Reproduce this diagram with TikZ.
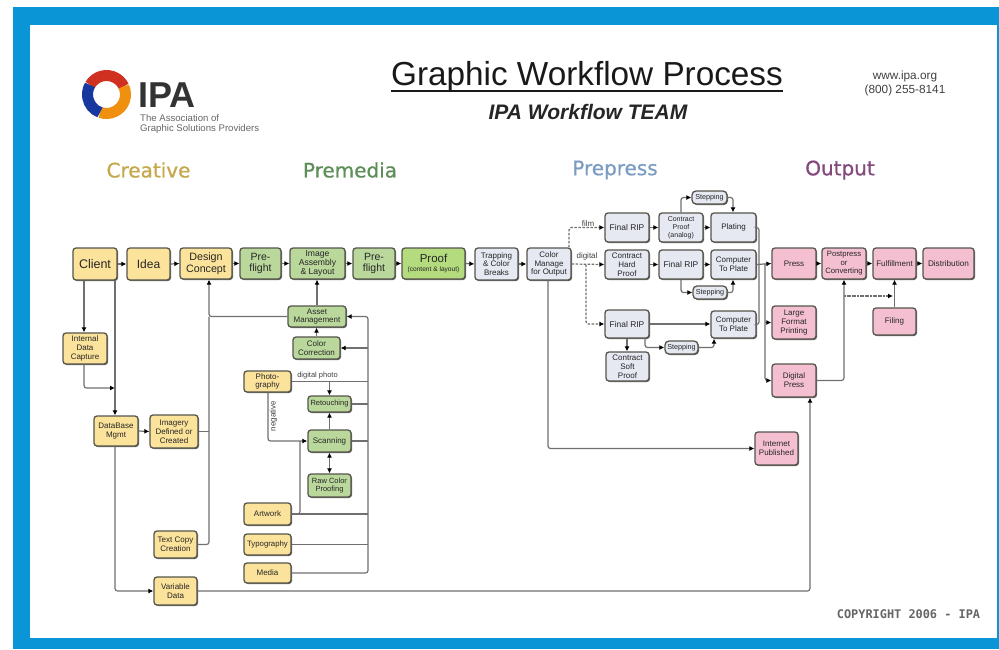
\documentclass[tikz,border=0pt]{standalone}
\usepackage{fontspec}
\setmainfont{Liberation Sans}
\newfontfamily\catfont[FakeBold=0.7]{DejaVu Sans}
\newfontfamily\copyfont{DejaVu Sans Mono}
\usetikzlibrary{arrows.meta,shadows,calc}
\definecolor{frameblue}{HTML}{0A96D6}
\definecolor{cy}{HTML}{FCE39B}
\definecolor{cg}{HTML}{BAD89C}
\definecolor{cgp}{HTML}{B4DB7E}
\definecolor{cb}{HTML}{E6E8F2}
\definecolor{cp}{HTML}{F5BFD2}
\definecolor{edge}{HTML}{55554C}
\definecolor{lin}{HTML}{707070}
\definecolor{lgred}{HTML}{D03020}
\definecolor{lgor}{HTML}{F09010}
\definecolor{lgbl}{HTML}{1838A0}
\tikzset{
  boxbase/.style={draw=edge,line width=1.3pt,rounded corners=3pt,inner sep=0pt,align=center,
    text=black!85,font=\fontsize{8}{8.8}\selectfont,
    drop shadow={shadow xshift=1pt,shadow yshift=-1pt,fill=black!60,opacity=1}},
  yel/.style={boxbase,fill=cy},
  grn/.style={boxbase,fill=cg},
  grp/.style={boxbase,fill=cgp},
  blu/.style={boxbase,fill=cb},
  pnk/.style={boxbase,fill=cp},
  big/.style={font=\fontsize{12.5}{13}\selectfont},
  mid/.style={font=\fontsize{10.5}{11.5}\selectfont},
  conn/.style={draw=lin,line width=1.2pt,rounded corners=2.5pt},
  arr/.style={conn,-{Latex[length=5pt,width=5pt,black]}},
  dsh/.style={arr,dash pattern=on 2.5pt off 1.5pt},
  lab/.style={inner sep=0pt,text=black!75,font=\fontsize{7.5}{8}\selectfont},
  cat/.style={inner sep=0pt,font=\catfont\fontsize{20}{22}\selectfont},
}
\newcommand\bx[7]{%
  \pgfmathsetmacro\bw{#4-#2}\pgfmathsetmacro\bh{#5-#3}%
  \pgfmathsetmacro\bcx{(#2+#4)/2}\pgfmathsetmacro\bcy{(#3+#5)/2}%
  \node[#6,minimum width=\bw pt,minimum height=\bh pt] (#1) at (\bcx,\bcy) {#7};}
\begin{document}
\begin{tikzpicture}[x=1pt,y=-1pt]
\useasboundingbox (0,0) rectangle (999,649);
\fill[frameblue] (13,7) rectangle (999,649);
\fill[white] (30,25) rectangle (997,638);
% logo
\begin{scope}[shift={(106.5,94.5)},line width=11pt]
\draw[lgred] (-150:19) arc (-150:-25:19);
\draw[lgor] (-25:19) arc (-25:110:19);
\draw[lgbl] (110:19) arc (110:210:19);
\end{scope}
\node[inner sep=0pt,font=\bfseries\fontsize{36}{36}\selectfont,text=black!80] (ipa) at (167,95) {IPA};
\node[inner sep=0pt,align=left,anchor=north west,text=black!60,font=\fontsize{9.6}{10.4}\selectfont] (assoc) at (140,114) {The Association of\\Graphic Solutions Providers};
% titles
\node[inner sep=0pt,font=\fontsize{33.3}{34}\selectfont,text=black!90] (title) at (587,77) {Graphic Workflow Process};
\draw[black!90,line width=1.6pt] (title.west |- 0,91) -- (title.east |- 0,91);
\node[inner sep=0pt,font=\bfseries\itshape\fontsize{21}{22}\selectfont,text=black!85] (sub) at (588,112) {IPA Workflow TEAM};
\node[inner sep=0pt,align=center,text=black!75,font=\fontsize{11.8}{14}\selectfont] (web) at (905,83) {www.ipa.org\\(800) 255-8141};
\definecolor{t1}{HTML}{C4A84A}\definecolor{t2}{HTML}{5E8E58}\definecolor{t3}{HTML}{7C9CC4}\definecolor{t4}{HTML}{84487C}
\node[cat,text=t1] (c1) at (148.5,170) {Creative};
\node[cat,text=t2] (c2) at (350,170) {Premedia};
\node[cat,text=t3] (c3) at (615,170) {Prepress};
\node[cat,text=t4] (c4) at (840,170) {Output};
\node[inner sep=0pt,text=black!60,font=\copyfont\bfseries\fontsize{11.9}{12}\selectfont] (copy) at (908.5,614) {COPYRIGHT 2006 - IPA};
% main row
\bx{client}{73}{248}{117}{280}{yel,big}{Client}
\bx{idea}{127}{248}{170}{280}{yel,font=\fontsize{12}{13}\selectfont}{Idea}
\bx{design}{180}{248}{232}{279}{yel,font=\fontsize{10.7}{12}\selectfont}{Design\\Concept}
\bx{pre1}{240}{248}{281}{279}{grn,mid}{Pre-\\flight}
\bx{image}{290}{248}{345}{279}{grn,font=\fontsize{8.6}{8.6}\selectfont}{Image\\Assembly\\\& Layout}
\bx{pre2}{353}{248}{395}{279}{grn,mid}{Pre-\\flight}
\bx{proof}{402}{248}{465}{279}{grp}{{\fontsize{11.5}{11}\selectfont Proof}\\[0pt]{\fontsize{6.6}{7}\selectfont (content \& layout)}}
\bx{trap}{475}{248}{518}{280}{blu}{Trapping\\\& Color\\Breaks}
\bx{cman}{527}{248}{571}{280}{blu}{Color\\Manage\\for Output}
% prepress
\bx{rip1}{605}{213}{649}{242}{blu,font=\fontsize{8.4}{9}\selectfont}{Final RIP}
\bx{hard}{605}{250}{649}{279}{blu}{Contract\\Hard\\Proof}
\bx{rip3}{605}{310}{649}{338}{blu,font=\fontsize{8.4}{9}\selectfont}{Final RIP}
\bx{soft}{606}{352}{649}{381}{blu}{Contract\\Soft\\Proof}
\bx{analog}{659}{213}{703}{242}{blu,font=\fontsize{7}{7.8}\selectfont}{Contract\\Proof\\(analog)}
\bx{rip2}{659}{250}{703}{279}{blu,font=\fontsize{8.4}{9}\selectfont}{Final RIP}
\bx{plate}{711}{213}{756}{242}{blu}{Plating}
\bx{ctp1}{711}{250}{756}{279}{blu}{Computer\\To Plate}
\bx{ctp2}{711}{311}{756}{338}{blu}{Computer\\To Plate}
\bx{st1}{692}{191}{727}{204}{blu,font=\fontsize{7.2}{8}\selectfont,rounded corners=4pt}{Stepping}
\bx{st2}{693}{286}{727}{299}{blu,font=\fontsize{7.2}{8}\selectfont,rounded corners=4pt}{Stepping}
\bx{st3}{665}{341}{698}{354}{blu,font=\fontsize{7.2}{8}\selectfont,rounded corners=4pt}{Stepping}
% output
\bx{press}{772}{248}{816}{279}{pnk}{Press}
\bx{post}{822}{248}{866}{279}{pnk,font=\fontsize{7.7}{8.6}\selectfont}{Postpress\\or\\Converting}
\bx{ful}{873}{248}{916}{279}{pnk}{Fulfillment}
\bx{dist}{923}{248}{974}{279}{pnk,font=\fontsize{8.2}{9}\selectfont}{Distribution}
\bx{large}{772}{306}{816}{339}{pnk}{Large\\Format\\Printing}
\bx{filing}{873}{308}{916}{335}{pnk}{Filing}
\bx{dpress}{772}{364}{816}{397}{pnk}{Digital\\Press}
\bx{inet}{755}{432}{798}{465}{pnk}{Internet\\Published}
% creative left
\bx{capture}{63}{333}{107}{364}{yel}{Internal\\Data\\Capture}
\bx{dbm}{94}{416}{138}{446}{yel}{DataBase\\Mgmt}
\bx{imagery}{150}{415}{198}{448}{yel}{Imagery\\Defined or\\Created}
\bx{textc}{154}{531}{197}{558}{yel}{Text Copy\\Creation}
\bx{vdata}{154}{577}{197}{605}{yel}{Variable\\Data}
% premedia column
\bx{asset}{288}{306}{346}{327}{grn}{Asset\\Management}
\bx{ccor}{293}{337}{340}{359}{grn}{Color\\Correction}
\bx{photo}{244}{371}{291}{392}{yel}{Photo-\\graphy}
\bx{retouch}{308}{396}{351}{412}{grn,font=\fontsize{7.5}{8}\selectfont}{Retouching}
\bx{scan}{308}{430}{351}{452}{grn}{Scanning}
\bx{raw}{308}{474}{351}{497}{grn,font=\fontsize{7.5}{8.4}\selectfont}{Raw Color\\Proofing}
\bx{art}{244}{503}{291}{525}{yel}{Artwork}
\bx{typo}{244}{534}{291}{555}{yel,font=\fontsize{7.8}{8}\selectfont}{Typography}
\bx{media}{244}{563}{291}{583}{yel}{Media}
% main row arrows
\foreach \a/\b in {client/idea,idea/design,design/pre1,pre1/image,image/pre2,pre2/proof,proof/trap,trap/cman,
  hard/rip2,rip2/ctp1,rip1/analog,analog/plate,press/post,post/ful,ful/dist,dbm/imagery}
  \draw[arr] (\a.east) -- (\b.west);
% creative
\draw[arr] (84,0 |- client.south) -- (84,0 |- capture.north);
\coordinate (capj) at (115,388);
\draw[arr] (84,0 |- capture.south) |- (capj);
\draw[arr] (115,0 |- client.south) -- (115,0 |- dbm.north);
\draw[arr] (115,0 |- dbm.south) |- (vdata.west);
\draw[arr] (vdata.east) -| (810,0 |- dpress.south);
\coordinate (dc) at (209,0 |- design.south);
\draw[arr] (asset.west) -| (dc);
\draw[conn] (imagery.east) -- (209,0 |- imagery.east);
\draw[conn] (textc.east) -| (209,0 |- asset.west);
% premedia
\draw[arr] (asset.north) -- (asset.north |- image.south);
\draw[arr] (ccor.north) -- (ccor.north |- asset.south);
\coordinate (bustop) at (368,0 |- asset.east);
\draw[arr] (media.east) -| (bustop) -- (asset.east);
\draw[arr] (368,0 |- ccor.east) -- (ccor.east);
\draw[conn] (photo.east) -- (368,0 |- photo.east);
\draw[conn] (retouch.east) -- (368,0 |- retouch.east);
\draw[conn] (scan.east) -- (368,0 |- scan.east);
\draw[conn] (art.east) -- (368,0 |- art.east);
\draw[conn] (typo.east) -- (368,0 |- typo.east);
\draw[arr] (retouch.north |- photo.east) -- (retouch.north);
\draw[arr] (scan.north) -- (retouch.south);
\draw[conn,{Latex[length=5pt,width=5pt,black]}-{Latex[length=5pt,width=5pt,black]}] (scan.south) -- (raw.north);
\draw[arr] (268,0 |- photo.south) |- (scan.west);
\draw[conn] (art.east) -| (300,0 |- scan.west);
\node[lab] (dig) at (317.5,375.5) {digital photo};
\node[lab,rotate=90,font=\fontsize{8}{8}\selectfont] (neg) at (273.5,416) {negative};
% prepress
\coordinate (filmj) at (569,0 |- cman.north);
\draw[dsh] (filmj) |- (rip1.west);
\draw[dsh] (cman.east) -- (hard.west);
\draw[dsh] (586,0 |- hard.west) |- (rip3.west);
\node[lab,font=\fontsize{8}{8}\selectfont] (film) at (588,224) {film};
\node[lab,font=\fontsize{8}{8}\selectfont] (digi) at (587,256.5) {digital};
\draw[arr] (548,0 |- cman.south) |- (inet.west);
\draw[arr] (rip3.east) -- (rip3.east -| ctp2.west);
\draw[arr] (rip3.south) -- (rip3.south |- soft.north);
\draw[arr] (645,0 |- rip3.south) |- (st3.west);
\draw[arr] (st3.east) -| (714,0 |- ctp2.south);
\draw[arr] (681,0 |- analog.north) |- (st1.west);
\draw[arr] (st1.east) -| (733,0 |- plate.north);
\draw[arr] (681,0 |- rip2.south) |- (st2.west);
\draw[arr] (st2.east) -| (733,0 |- ctp1.south);
% to output
\draw[arr] (ctp1.east) -- (press.west);
\draw[conn] (plate.east) -| (759,0 |- ctp2.east) -- (ctp2.east);
\draw[arr] (765,0 |- press.west) |- (dpress.west);
\draw[arr] (765,0 |- large.west) -- (large.west);
\draw[arr] (dpress.east) -| (844,0 |- post.south);
\coordinate (fj) at (893,296);
\draw[arr,dash pattern=on 2pt off 0.6pt] (844,0 |- fj) -- (fj);
\draw[arr] (filing.north) -- (filing.north |- ful.south);
\end{tikzpicture}
\end{document}
